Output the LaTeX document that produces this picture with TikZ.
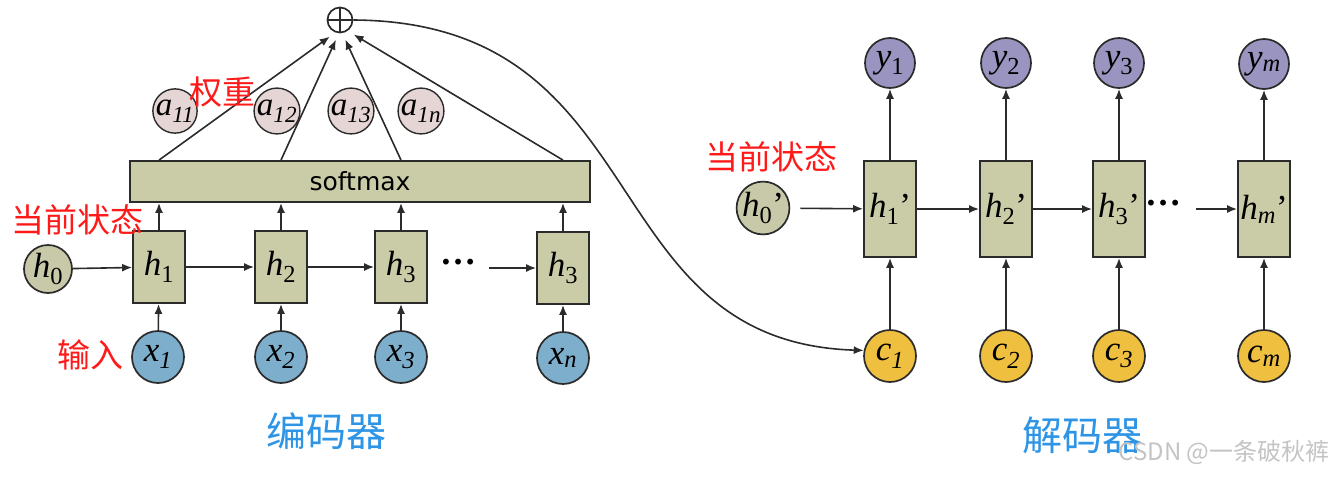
\documentclass[tikz,border=0pt]{standalone}
\usepackage{fontspec}
\setmainfont{Liberation Serif}
\newfontfamily\cjk{Noto Sans CJK SC}
\newfontfamily\sfdj{DejaVu Sans}
\usetikzlibrary{arrows.meta}
\definecolor{lc}{HTML}{2B2B2B}
\definecolor{boxc}{HTML}{C9CCA6}
\definecolor{hcirc}{HTML}{C8C9A8}
\definecolor{afill}{HTML}{E6D5D5}
\definecolor{xfill}{HTML}{7DAECC}
\definecolor{yfill}{HTML}{9A95C0}
\definecolor{cfill}{HTML}{EFBF3F}
\definecolor{redt}{HTML}{FF1A1A}
\definecolor{bluet}{HTML}{2E95E6}
\definecolor{wm}{HTML}{C4C4C4}
\newcommand\vsub[2]{\textit{#1}\textsubscript{#2}}
\tikzset{
  varfont/.style={font=\fontsize{35}{35}\selectfont},
  hbox/.style={draw=lc, fill=boxc, line width=1.8pt, minimum width=52pt, inner sep=0pt, varfont},
  lbox/.style={hbox, minimum height=72pt},
  rbox/.style={hbox, minimum height=96pt},
  circ/.style={circle, draw=lc, line width=1.7pt, inner sep=0pt, minimum size=50pt, varfont},
  acirc/.style={circle, draw=lc, line width=1.4pt, inner sep=0pt, minimum size=43pt, fill=afill, font=\fontsize{33}{33}\selectfont},
  arr/.style={-{Latex[length=10pt,width=8pt]}, line width=1.6pt, draw=lc},
  redlab/.style={text=redt, font=\cjk\fontsize{33}{33}\selectfont, inner sep=0pt},
  bluelab/.style={text=bluet, font=\cjk\fontsize{40}{40}\selectfont, inner sep=0pt},
  dotsfont/.style={font=\bfseries\fontsize{36}{36}\selectfont, inner sep=0pt},
}
\begin{document}
\begin{tikzpicture}[x=1pt,y=-1pt]
\fill[white] (0,0) rectangle (1339,477);
\useasboundingbox (0,0) rectangle (1339,477);

% ---------- encoder ----------
\node[draw=lc, fill=boxc, line width=1.8pt, minimum width=460pt, minimum height=41pt, inner sep=0pt,
      font=\sfdj\fontsize{25}{25}\selectfont] (soft) at (360,181.5) {softmax};

\node[circle, draw=lc, line width=1.7pt, minimum size=25pt, inner sep=0pt] (plus) at (340,20) {};
\draw[line width=1.7pt, lc] (plus.north) -- (plus.south);
\draw[line width=1.7pt, lc] (plus.west) -- (plus.east);

\node[circ, fill=hcirc, minimum size=48pt] (h0) at (48,269) {\vsub{h}{0}};
\node[lbox] (h1) at (159,267) {\vsub{h}{1}};
\node[lbox] (h2) at (281,267) {\vsub{h}{2}};
\node[lbox] (h3) at (401,267) {\vsub{h}{3}};
\node[lbox] (hn) at (563,268) {\vsub{h}{3}};

\node[circ, fill=xfill, minimum size=52pt] (x1) at (158,357) {\vsub{x}{\textit{1}}};
\node[circ, fill=xfill, minimum size=52pt] (x2) at (281,357) {\vsub{x}{\textit{2}}};
\node[circ, fill=xfill, minimum size=52pt] (x3) at (401,357) {\vsub{x}{\textit{3}}};
\node[circ, fill=xfill, minimum size=52pt] (xn) at (563,358) {\vsub{x}{\textit{n}}};

\node[dotsfont] (edots) at (458,262) {…};
\coordinate (es) at (489,268);

\foreach \i in {1,2,3,n}{
  \draw[arr] (x\i) -- (h\i);
  \draw[arr] (h\i.north) -- (h\i |- soft.south);
  \coordinate (st\i) at (h\i |- soft.north);
}
\draw[arr] (h0) -- (h1);
\draw[arr] (h1) -- (h2);
\draw[arr] (h2) -- (h3);
\draw[arr] (es) -- (hn.west |- es);

\draw[arr, shorten >=7pt] (st1) -- (plus.250);
\draw[arr, shorten >=7pt] (st2) -- (plus.265);
\draw[arr, shorten >=7pt] (st3) -- (plus.280);
\draw[arr, shorten >=7pt] (stn) -- (plus.305);

\node[acirc] (a11) at (175,111) {\vsub{a}{\textit{11}}};
\node[acirc] (a12) at (277,111) {\vsub{a}{\textit{12}}};
\node[acirc] (a13) at (351,111) {\vsub{a}{\textit{13}}};
\node[acirc] (a1n) at (421,111) {\vsub{a}{\textit{1n}}};

\node[redlab] (wlab) at (222,92) {权重};
\node[redlab] (slab1) at (78,220) {当前状态};
\node[redlab] (inlab) at (90,355) {输入};
\node[bluelab] (enc) at (326,431) {编码器};

% ---------- decoder ----------
\node[circ, fill=hcirc] (g0) at (763,208) {\vsub{h}{0}’};
\node[rbox] (g1) at (890,209) {\vsub{h}{1}’};
\node[rbox] (g2) at (1006,209) {\vsub{h}{2}’};
\node[rbox] (g3) at (1119,209) {\vsub{h}{3}’};
\node[rbox] (gm) at (1264,209) {\vsub{h}{\textit{m}}’};

\node[circ, fill=yfill] (y1) at (890,63) {\vsub{y}{1}};
\node[circ, fill=yfill] (y2) at (1006,63) {\vsub{y}{2}};
\node[circ, fill=yfill] (y3) at (1119,63) {\vsub{y}{3}};
\node[circ, fill=yfill] (ym) at (1264,64) {\vsub{y}{\textit{m}}};

\node[circ, fill=cfill, minimum size=52pt] (c1) at (890,356) {\vsub{c}{\textit{1}}};
\node[circ, fill=cfill, minimum size=52pt] (c2) at (1006,356) {\vsub{c}{\textit{2}}};
\node[circ, fill=cfill, minimum size=52pt] (c3) at (1119,356) {\vsub{c}{\textit{3}}};
\node[circ, fill=cfill, minimum size=52pt] (cm) at (1264,356) {\vsub{c}{\textit{m}}};

\node[dotsfont] (ddots) at (1163,203) {…};
\coordinate (ds) at (1196,209);

\foreach \i in {1,2,3,m}{
  \draw[arr] (c\i) -- (g\i);
  \draw[arr] (g\i) -- (y\i);
}
\draw[arr, shorten <=10pt] (g0) -- (g1);
\draw[arr] (g1) -- (g2);
\draw[arr] (g2) -- (g3);
\draw[arr] (ds) -- (gm.west |- ds);

\draw[arr] (plus.east) .. controls (660,22) and (590,342) .. (c1.168);

\node[redlab] (slab2) at (771,157) {当前状态};
\node[bluelab] (dec) at (1082,435) {解码器};
\node[text=wm, font=\cjk\fontsize{24}{24}\selectfont, inner sep=0pt] (wmk) at (1224,452) {CSDN @一条破秋裤};
\end{tikzpicture}
\end{document}
